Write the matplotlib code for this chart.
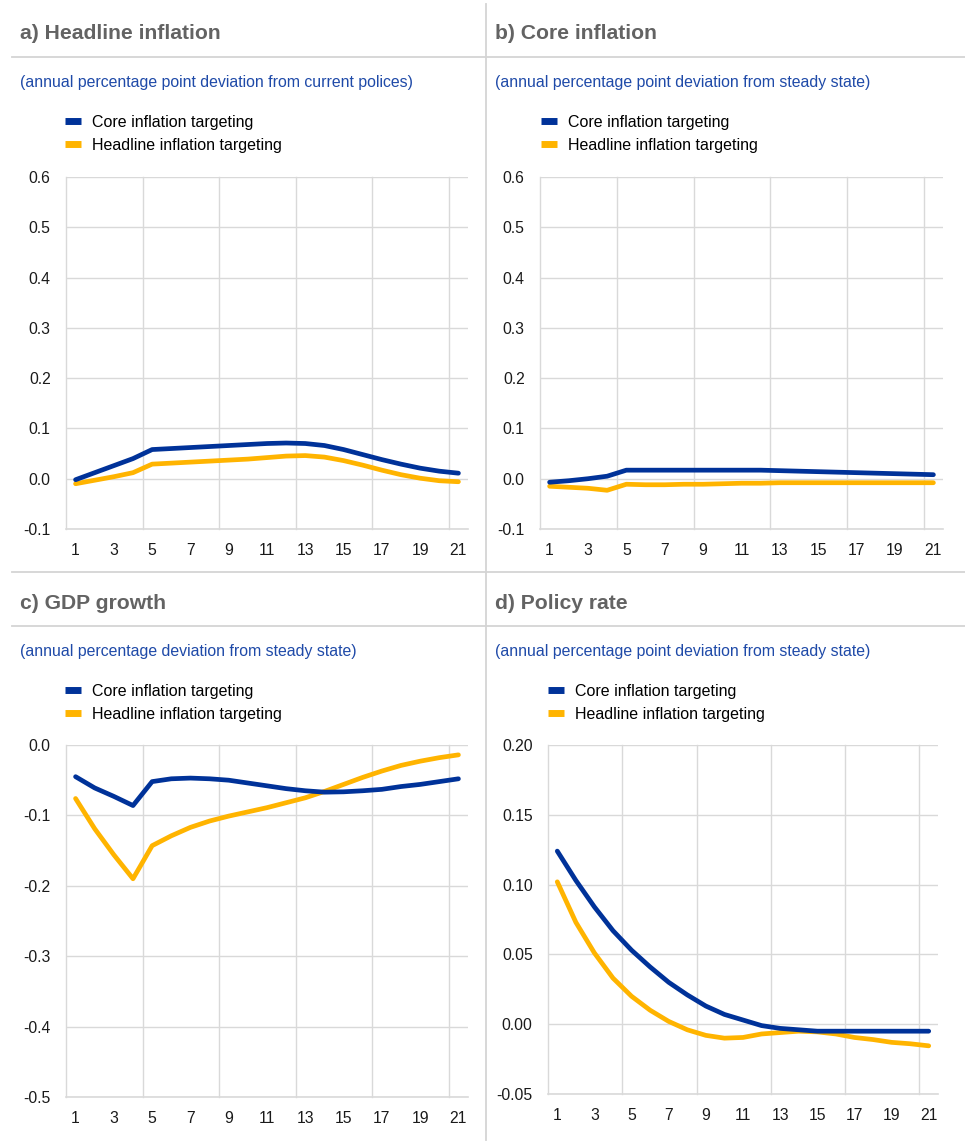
import matplotlib
matplotlib.use("Agg")
import matplotlib.pyplot as plt
from matplotlib.lines import Line2D
from matplotlib.ticker import FuncFormatter

plt.rcParams['font.family'] = ['Liberation Sans', 'DejaVu Sans']

# ---------------- data ----------------
quarters = list(range(1, 22))
xtick_labels = [str(q) for q in range(1, 22, 2)]

series_names = ["Core inflation targeting", "Headline inflation targeting"]

# a) Headline inflation
a_core = [-0.002, 0.012, 0.026, 0.040, 0.058, 0.060, 0.062, 0.064, 0.066, 0.068, 0.070,
          0.071, 0.070, 0.066, 0.058, 0.048, 0.038, 0.029, 0.021, 0.015, 0.011]
a_head = [-0.010, -0.003, 0.004, 0.012, 0.029, 0.031, 0.033, 0.035, 0.037, 0.039, 0.042,
          0.045, 0.046, 0.043, 0.036, 0.027, 0.017, 0.008, 0.001, -0.004, -0.006]

# b) Core inflation
b_core = [-0.007, -0.004, 0.000, 0.005, 0.017, 0.017, 0.017, 0.017, 0.017, 0.017, 0.017,
          0.017, 0.016, 0.015, 0.014, 0.013, 0.012, 0.011, 0.010, 0.009, 0.008]
b_head = [-0.015, -0.017, -0.019, -0.023, -0.011, -0.012, -0.012, -0.011, -0.011, -0.010, -0.009,
          -0.009, -0.008, -0.008, -0.008, -0.008, -0.008, -0.008, -0.008, -0.008, -0.008]

# c) GDP growth
c_core = [-0.045, -0.061, -0.073, -0.086, -0.052, -0.048, -0.047, -0.048, -0.050, -0.054, -0.058,
          -0.062, -0.065, -0.067, -0.0665, -0.065, -0.063, -0.059, -0.056, -0.052, -0.048]
c_head = [-0.076, -0.119, -0.156, -0.190, -0.143, -0.129, -0.117, -0.108, -0.101, -0.095, -0.089,
          -0.082, -0.075, -0.066, -0.056, -0.046, -0.037, -0.029, -0.023, -0.018, -0.014]

# d) Policy rate
d_core = [0.124, 0.103, 0.084, 0.067, 0.053, 0.041, 0.030, 0.021, 0.013, 0.007, 0.003,
          -0.001, -0.003, -0.004, -0.005, -0.005, -0.005, -0.005, -0.005, -0.005, -0.005]
d_head = [0.102, 0.073, 0.051, 0.033, 0.020, 0.010, 0.002, -0.004, -0.008, -0.010, -0.0095,
          -0.007, -0.006, -0.005, -0.0055, -0.007, -0.0095, -0.011, -0.013, -0.014, -0.0155]

titles = ["a) Headline inflation", "b) Core inflation", "c) GDP growth", "d) Policy rate"]
subtitles = ["(annual percentage point deviation from current polices)",
             "(annual percentage point deviation from steady state)",
             "(annual percentage deviation from steady state)",
             "(annual percentage point deviation from steady state)"]

a_yticks = [-0.1, 0.0, 0.1, 0.2, 0.3, 0.4, 0.5, 0.6]
b_yticks = [-0.1, 0.0, 0.1, 0.2, 0.3, 0.4, 0.5, 0.6]
c_yticks = [-0.5, -0.4, -0.3, -0.2, -0.1, 0.0]
d_yticks = [-0.05, 0.00, 0.05, 0.10, 0.15, 0.20]

# ---------------- style ----------------
BLUE = "#003299"
YELLOW = "#FFB400"
GRID = "#d9d9d9"
SEP = "#d4d4d4"
TITLE_C = "#636363"
SUB_C = "#1f4aa8"
TEXT_C = "#1a1a1a"

W, H = 965, 1147
fig = plt.figure(figsize=(W / 100, H / 100), dpi=100)
fig.patch.set_facecolor("white")


def rect(l, r, t, b):
    return [l / W, 1 - b / H, (r - l) / W, (b - t) / H]


def fx(x):
    return x / W


def fy(y):
    return 1 - y / H


# separators
for (x0, x1, y) in [(12, 965, 57), (12, 965, 572), (12, 965, 626)]:
    fig.add_artist(Line2D([fx(x0), fx(x1)], [fy(y), fy(y)], color=SEP, lw=1.3))
fig.add_artist(Line2D([fx(486.5), fx(486.5)], [fy(4), fy(1140)], color=SEP, lw=1.3))

panels = [
    dict(rect=rect(66, 468, 177, 529), core=a_core, head=a_head, yt=a_yticks, fmt="{:.1f}",
         tx=20, ty=39, sy=87, lx=65, ly=121),
    dict(rect=rect(540, 943, 177, 529), core=b_core, head=b_head, yt=b_yticks, fmt="{:.1f}",
         tx=495, ty=39, sy=87, lx=541, ly=121),
    dict(rect=rect(66, 468, 745, 1097), core=c_core, head=c_head, yt=c_yticks, fmt="{:.1f}",
         tx=20, ty=609, sy=656, lx=65, ly=690),
    dict(rect=rect(548, 938, 745, 1094), core=d_core, head=d_head, yt=d_yticks, fmt="{:.2f}",
         tx=495, ty=609, sy=656, lx=548, ly=690),
]

for i, p in enumerate(panels):
    ax = fig.add_axes(p["rect"])
    ax.plot(quarters, p["core"], color=BLUE, lw=3.4, solid_joinstyle="round",
            solid_capstyle="round", zorder=3)
    ax.plot(quarters, p["head"], color=YELLOW, lw=3.4, solid_joinstyle="round",
            solid_capstyle="round", zorder=2)
    ax.set_xlim(0.5, 21.5)
    ax.set_ylim(p["yt"][0], p["yt"][-1])
    ax.set_xticks(list(range(1, 22, 2)))
    ax.set_xticklabels(xtick_labels)
    ax.set_yticks(p["yt"])
    f = p["fmt"]
    ax.yaxis.set_major_formatter(FuncFormatter(lambda v, pos, f=f: f.format(v).replace("\u2212", "-")))
    ax.tick_params(length=0, labelsize=11.3, labelcolor=TEXT_C)
    ax.tick_params(axis="x", pad=10)
    ax.tick_params(axis="y", pad=11)
    for s in ["top", "right", "left"]:
        ax.spines[s].set_visible(False)
    ax.spines["bottom"].set_color(GRID)
    ax.spines["bottom"].set_linewidth(1.2)
    ax.grid(axis="y", color=GRID, lw=1.0)
    ax.set_axisbelow(True)
    for xv in [0.5, 4.5, 8.5, 12.5, 16.5, 20.5]:
        ax.axvline(xv, color=GRID, lw=1.0, zorder=0, clip_on=False)

    fig.text(fx(p["tx"]), fy(p["ty"]), titles[i], fontsize=15.2, fontweight="bold",
             color=TITLE_C, va="baseline", ha="left")
    fig.text(fx(p["tx"]), fy(p["sy"]), subtitles[i], fontsize=11.4,
             color=SUB_C, va="baseline", ha="left")

    h1 = Line2D([], [], color=BLUE, lw=5, solid_capstyle="butt")
    h2 = Line2D([], [], color=YELLOW, lw=5, solid_capstyle="butt")
    ax.legend([h1, h2], series_names, loc="upper left",
              bbox_to_anchor=(fx(p["lx"]), fy(p["ly"] - 6)),
              bbox_transform=fig.transFigure, frameon=False, fontsize=11.5,
              handlelength=1.0, handletextpad=0.68, labelspacing=0.5,
              borderaxespad=0, borderpad=0)

fig.savefig("out.png", dpi=100, facecolor="white")
